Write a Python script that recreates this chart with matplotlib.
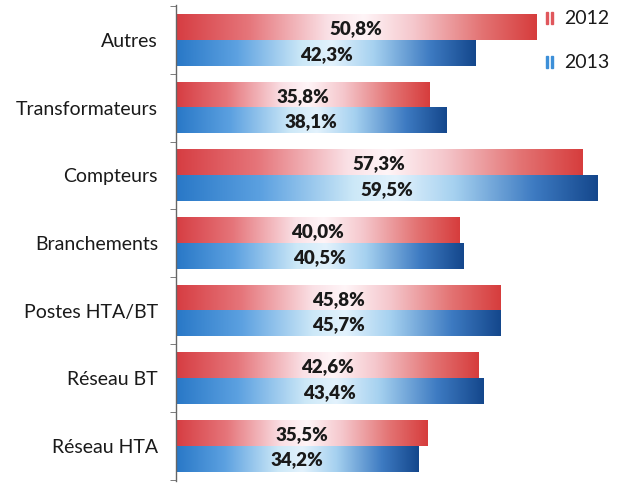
import numpy as np
import matplotlib
matplotlib.use("Agg")
import matplotlib.pyplot as plt
from matplotlib.colors import LinearSegmentedColormap

categories = ["Autres", "Transformateurs", "Compteurs", "Branchements",
              "Postes HTA/BT", "Réseau BT", "Réseau HTA"]
values_2012 = [50.8, 35.8, 57.3, 40.0, 45.8, 42.6, 35.5]
values_2013 = [42.3, 38.1, 59.5, 40.5, 45.7, 43.4, 34.2]
years = ["2012", "2013"]

# horizontal gradients: dark ends, pale middle
red_cmap = LinearSegmentedColormap.from_list("red_grad", [
    (0.00, (0.84, 0.24, 0.26)),
    (0.20, (0.90, 0.46, 0.48)),
    (0.42, (0.98, 0.88, 0.90)),
    (0.52, (1.00, 0.96, 0.97)),
    (0.66, (0.96, 0.78, 0.80)),
    (0.85, (0.89, 0.45, 0.45)),
    (1.00, (0.84, 0.24, 0.24)),
])
blue_cmap = LinearSegmentedColormap.from_list("blue_grad", [
    (0.00, (0.16, 0.47, 0.78)),
    (0.20, (0.36, 0.63, 0.88)),
    (0.42, (0.80, 0.91, 0.97)),
    (0.52, (0.89, 0.95, 0.99)),
    (0.66, (0.65, 0.82, 0.94)),
    (0.85, (0.24, 0.48, 0.76)),
    (1.00, (0.08, 0.28, 0.55)),
])

grad = np.linspace(0, 1, 256).reshape(1, -1)

fig = plt.figure(figsize=(6.2, 4.84), dpi=100)
ax = fig.add_axes([176 / 620, 3 / 484, 434 / 620, 476 / 484])

n = len(categories)
bar_h = 0.38
label_font = {"family": "Lato", "weight": "heavy", "size": 13.5}

for i, cat in enumerate(categories):
    yc = n - 1 - i
    for val, cmap, y0, y1 in [
        (values_2012[i], red_cmap, yc, yc + bar_h),
        (values_2013[i], blue_cmap, yc - bar_h, yc),
    ]:
        ax.imshow(grad, cmap=cmap, extent=[0, val, y0, y1],
                  aspect="auto", interpolation="bicubic", zorder=2)
        ax.text(val / 2, (y0 + y1) / 2 - 0.02, f"{val:.1f}%".replace(".", ","),
                ha="center", va="center", color="#1a1a1a", zorder=3,
                **label_font)

ax.set_xlim(0, 61.2)
ax.set_ylim(-0.5 - 0.02, n - 0.5 + 0.02)
ax.set_yticks(range(n))
ax.set_yticklabels(categories[::-1], family="Lato", fontsize=14, color="#1a1a1a")
ax.set_yticks(np.arange(-0.5, n, 1.0), minor=True)
ax.tick_params(axis="y", which="major", length=0, pad=13)
ax.tick_params(axis="y", which="minor", length=4, color="#666666")
ax.set_xticks([])
for side in ["top", "right", "bottom"]:
    ax.spines[side].set_visible(False)
ax.spines["left"].set_color("#666666")
ax.spines["left"].set_linewidth(1.0)

# legend: two thin stripes then the year
for yr, color, ypix in [(years[0], "#e0575c", 18), (years[1], "#3d8fd8", 62)]:
    for xpix in (546, 551):
        fig.patches.append(plt.Rectangle((xpix / 620, 1 - (ypix + 6) / 484),
                                         2 / 620, 12 / 484, color=color,
                                         transform=fig.transFigure))
    fig.text(564 / 620, 1 - ypix / 484, yr, ha="left", va="center",
             family="Lato", fontsize=14, color="#1a1a1a")

fig.savefig("out.png", dpi=100, facecolor="white")
